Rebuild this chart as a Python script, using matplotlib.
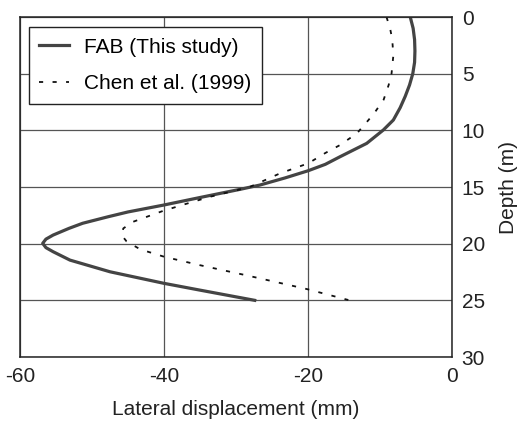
import matplotlib
matplotlib.use("Agg")
import matplotlib.pyplot as plt

# Values (depth in m, displacement in mm)
fab_depth = [0, 1, 2, 3, 4, 5, 6, 7, 8, 9.09, 9.97, 11.15, 12.33, 13.0, 13.56, 14.2,
             14.83, 15.2, 15.9, 16.6, 17.2, 17.63, 18.2, 18.65, 19.24, 19.6, 19.97,
             20.35, 20.71, 21.45, 22.48, 23.5, 24.1, 25]
fab_disp = [-5.8, -5.4, -5.2, -5.15, -5.2, -5.45, -5.9, -6.5, -7.2, -8.15, -9.54, -11.85,
            -15.56, -17.6, -19.96, -23.2, -26.7, -29.4, -34.8, -40.1, -45.0, -47.8,
            -51.3, -53.2, -55.4, -56.4, -56.85, -56.4, -55.4, -53.06, -47.5, -40.0,
            -35.0, -27.4]

chen_depth = [0, 1, 2, 3.4, 5, 6, 7.3, 8.3, 9.09, 10.26, 11.3, 12.0, 12.91, 13.8, 15,
              15.86, 16.5, 17.1, 18.07, 18.65, 19.24, 19.8, 20.5, 21.15, 21.9, 22.8,
              24.0, 24.97]
chen_disp = [-9.1, -8.6, -8.3, -8.15, -8.4, -8.8, -9.5, -10.6, -11.6, -13.2, -15.56,
             -17.6, -19.96, -23.9, -28.1, -33.6, -37.0, -40.1, -44.3, -45.65, -45.9,
             -45.2, -43.3, -40.0, -35.0, -28.5, -20.2, -14.4]

x_ticks = [-60, -40, -20, 0]
y_ticks = [0, 5, 10, 15, 20, 25, 30]

plt.rcParams["font.family"] = ["Liberation Sans", "DejaVu Sans"]
plt.rcParams["font.size"] = 15
plt.rcParams["axes.unicode_minus"] = False

fig = plt.figure(figsize=(5.21, 4.21), dpi=100)
ax = fig.add_axes([0.0384, 0.152, 0.8292, 0.8076])

ax.plot(fab_disp, fab_depth, color="#444444", lw=2.3, solid_joinstyle="round",
        label="FAB (This study)")
ax.plot(chen_disp, chen_depth, color="#111111", lw=1.3, ls=(0, (2.3, 5.2)),
        label="Chen et al. (1999)")

ax.set_xlim(-60, 0)
ax.set_ylim(30, 0)
ax.set_xticks(x_ticks)
ax.set_yticks(y_ticks)
ax.grid(True, color="#555555", lw=0.9)
ax.set_axisbelow(True)

ax.yaxis.tick_right()
ax.yaxis.set_label_position("right")
ax.tick_params(length=0, pad=7, colors="#222222")
ax.set_xlabel("Lateral displacement (mm)", labelpad=10, color="#222222")
ax.set_ylabel("Depth (m)", labelpad=10, color="#222222")

for s in ax.spines.values():
    s.set_color("#222222")
    s.set_linewidth(1.1)

leg = ax.legend(loc="upper left", bbox_to_anchor=(0.021, 0.97), fancybox=False,
                framealpha=1, edgecolor="#222222", handlelength=1.4,
                handletextpad=0.75, borderpad=0.5, labelspacing=0.85,
                borderaxespad=0)
leg.get_frame().set_linewidth(1.0)

fig.savefig("out.png", dpi=100)
